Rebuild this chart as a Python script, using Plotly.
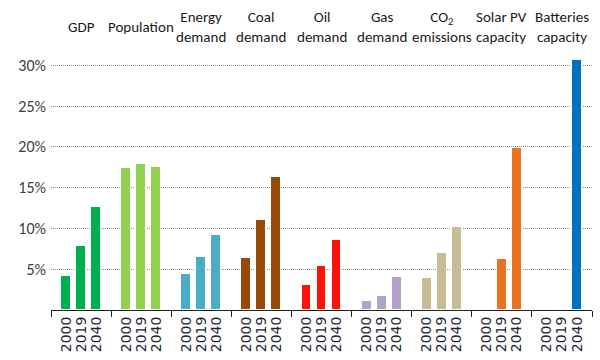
import plotly.graph_objects as go

categories = ["GDP", "Population", "Energy<br>demand", "Coal<br>demand", "Oil<br>demand",
              "Gas<br>demand", "CO<sub>2</sub><br>emissions", "Solar PV<br>capacity", "Batteries<br>capacity"]
years = ["2000", "2019", "2040"]
gdp = [4.2, 7.85, 12.6]
population = [17.4, 17.85, 17.5]
energy_demand = [4.4, 6.55, 9.2]
coal_demand = [6.4, 11.0, 16.3]
oil_demand = [3.1, 5.45, 8.6]
gas_demand = [1.15, 1.7, 4.1]
co2_emissions = [3.95, 7.0, 10.2]
solar_pv = [0.0, 6.3, 19.85]
batteries = [0.0, 0.15, 30.6]
series = [gdp, population, energy_demand, coal_demand, oil_demand, gas_demand, co2_emissions, solar_pv, batteries]
colors = ["#00B050", "#92D050", "#4BACC6", "#984807", "#FF1208", "#B3A2C7", "#C4BD97", "#E97320", "#0070C0"]
y_ticks = [5, 10, 15, 20, 25, 30]

label_font = "Carlito, 'Liberation Sans Narrow', 'Open Sans', sans-serif"

fig = go.Figure()
tickvals, ticktext = [], []
for i, (vals, col) in enumerate(zip(series, colors)):
    xs = [4 * i + 1 + j for j in range(3)]
    tickvals += xs
    ticktext += years
    fig.add_trace(go.Bar(x=xs, y=vals, width=0.66, marker=dict(color=col, line=dict(color="white", width=1)),
                         showlegend=False, hoverinfo="skip"))
    fig.add_annotation(x=4 * i + 2, y=1, xref="x", yref="paper", text=categories[i], showarrow=False,
                       yanchor="middle", yshift=22,
                       font=dict(family=label_font, size=15, color="#1a1a1a"))

fig.update_layout(
    width=600, height=360, margin=dict(l=51, r=8, t=49, b=48),
    plot_bgcolor="white", paper_bgcolor="white", bargap=0,
    xaxis=dict(range=[0, 36], tickvals=tickvals, ticktext=ticktext, tickangle=-90, ticks="",
               showgrid=False, showline=True, linecolor="#222", linewidth=1,
               tickfont=dict(family="DejaVu Sans", size=14, color="#1f2533"),
               minor=dict(tickvals=[4 * k for k in range(10)], ticks="outside", ticklen=6, tickcolor="#222", showgrid=False)),
    yaxis=dict(range=[0, 32], tickvals=y_ticks, ticktext=[f"{v}%" for v in y_ticks], showgrid=True,
               gridcolor="#8c8c8c", griddash="1px,1px", gridwidth=1, zeroline=False, showline=False, ticks="",
               ticklabelstandoff=4,
               tickfont=dict(family=label_font, size=16, color="#404040")),
)
fig.write_html("out.html")
